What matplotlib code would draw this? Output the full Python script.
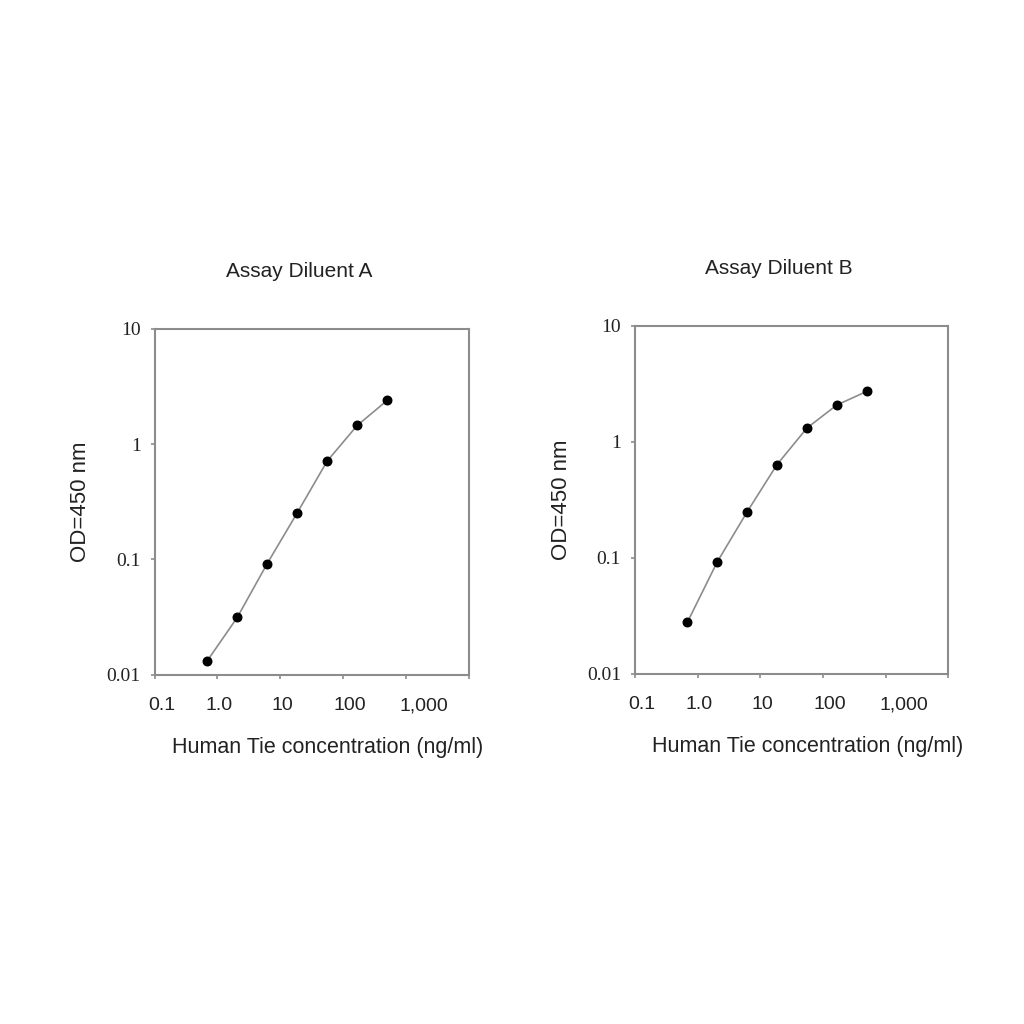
import matplotlib
matplotlib.use('Agg')
import matplotlib.pyplot as plt
import matplotlib.transforms as mtransforms
import numpy as np

plt.rcParams['font.family'] = ['Liberation Sans', 'DejaVu Sans']

# concentrations (ng/ml), 3-fold serial dilution from 500
conc = [0.686, 2.06, 6.17, 18.5, 55.6, 166.7, 500]
od_a = [0.0132, 0.0314, 0.092, 0.253, 0.713, 1.45, 2.39]
od_b = [0.0277, 0.092, 0.248, 0.634, 1.31, 2.07, 2.71]

titles = ['Assay Diluent A', 'Assay Diluent B']
xticks = [0.1, 1, 10, 100, 1000, 10000]
xticklabels = ['0.1', '1.0', '10', '100', '1,000', '']
yticks = [0.01, 0.1, 1, 10]
yticklabels = ['0.01', '0.1', '1', '10']
# small rightward shift of the x tick labels, as in the original
label_shift = [7, 2, 2, 7, 18, 0]

grey = '#8c8c8c'
txt = '#222222'

fig = plt.figure(figsize=(10.24, 10.24), dpi=100)
boxes = [[0.151, 0.341, 0.307, 0.338], [0.620, 0.342, 0.306, 0.340]]

for box, od, title in zip(boxes, [od_a, od_b], titles):
    ax = fig.add_axes(box)
    ax.set_xscale('log')
    ax.set_yscale('log')
    ax.plot(conc, od, color=grey, lw=1.2, zorder=2)
    ax.scatter(conc, od, color='black', s=38, zorder=3)
    ax.set_xlim(0.1, 10000)
    ax.set_ylim(0.01, 10)
    ax.set_xticks(xticks)
    ax.set_xticklabels(xticklabels, fontsize=14, color=txt)
    ax.set_yticks(yticks)
    ax.set_yticklabels(yticklabels, fontsize=14, color=txt,
                       family='Liberation Serif')
    ax.minorticks_off()
    ax.tick_params(axis='x', length=3, width=1.2, color=grey, pad=13)
    ax.tick_params(axis='y', length=3, width=1.2, color=grey, pad=7)
    for lab, dx in zip(ax.get_xticklabels(), label_shift):
        off = mtransforms.ScaledTranslation(dx / 100, 0, fig.dpi_scale_trans)
        lab.set_transform(lab.get_transform() + off)
    for s in ax.spines.values():
        s.set_color(grey)
        s.set_linewidth(1.5)
    ax.set_xlabel('Human Tie concentration (ng/ml)', fontsize=15.5,
                  labelpad=16, color=txt)
    ax.xaxis.set_label_coords(0.55, -0.18)
    ax.set_ylabel('OD=450 nm', fontsize=16, labelpad=11, color=txt)
    ax.set_title(title, fontsize=15, pad=37, color=txt, x=0.46)

fig.savefig('out.png', dpi=100, facecolor='white')
